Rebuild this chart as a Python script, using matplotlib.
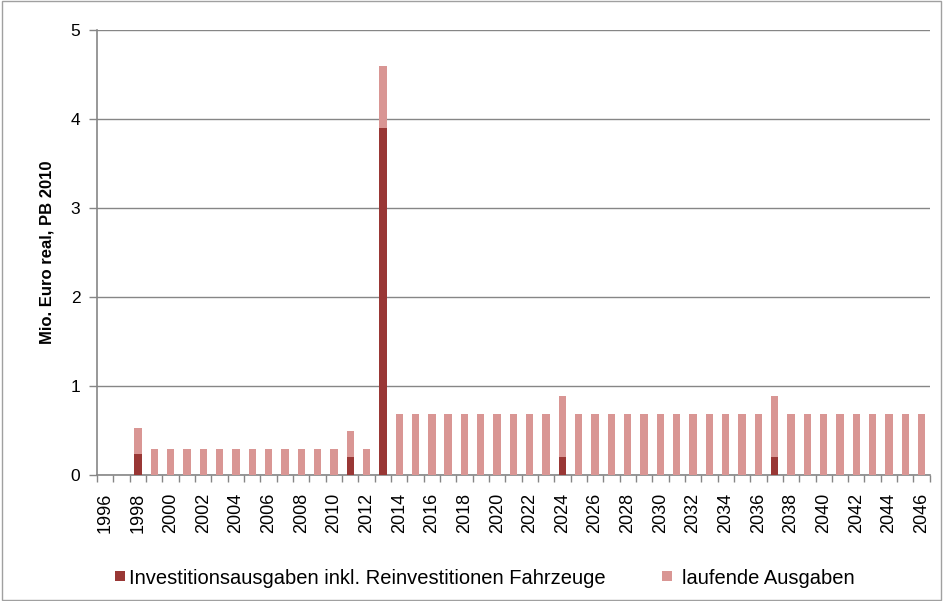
import numpy as np
import matplotlib.pyplot as plt
from matplotlib.patches import Rectangle

years = list(range(1996, 2047))

# Investitionsausgaben (Mio. Euro) per year
invest = [0.0, 0.0, 0.23, 0.0, 0.0, 0.0, 0.0, 0.0, 0.0, 0.0,
          0.0, 0.0, 0.0, 0.0, 0.0, 0.20, 0.0, 3.90, 0.0, 0.0,
          0.0, 0.0, 0.0, 0.0, 0.0, 0.0, 0.0, 0.0, 0.20, 0.0,
          0.0, 0.0, 0.0, 0.0, 0.0, 0.0, 0.0, 0.0, 0.0, 0.0,
          0.0, 0.20, 0.0, 0.0, 0.0, 0.0, 0.0, 0.0, 0.0, 0.0,
          0.0]

# laufende Ausgaben (Mio. Euro) per year
running = [0.0, 0.0, 0.30, 0.29, 0.29, 0.29, 0.29, 0.29, 0.29, 0.29,
           0.29, 0.29, 0.29, 0.29, 0.29, 0.29, 0.29, 0.70, 0.68, 0.68,
           0.68, 0.68, 0.68, 0.68, 0.68, 0.68, 0.68, 0.68, 0.69, 0.68,
           0.68, 0.68, 0.68, 0.68, 0.68, 0.68, 0.68, 0.68, 0.68, 0.68,
           0.68, 0.69, 0.68, 0.68, 0.68, 0.68, 0.68, 0.68, 0.68, 0.68,
           0.68]

dark = '#993735'
light = '#D99694'
axis_grey = '#868686'

plt.rcParams['font.family'] = ['Liberation Sans', 'DejaVu Sans']

fig = plt.figure(figsize=(9.43, 6.01), dpi=100)
ax = fig.add_axes([0.103, 0.21, 0.883, 0.74])

x = np.arange(len(years))
ax.bar(x, invest, width=0.45, color=dark, zorder=3)
ax.bar(x, running, width=0.45, bottom=invest, color=light, zorder=3)

ax.set_xlim(-0.5, len(years) - 0.5)
ax.set_ylim(0, 5)
ax.set_yticks(range(0, 6))
ax.yaxis.grid(True, color=axis_grey, linewidth=1.0, zorder=0)

# labels every second year, tick marks between categories
ax.set_xticks(x[::2])
ax.set_xticklabels([str(y) for y in years[::2]], rotation=90, fontsize=13)
ax.set_xticks(np.arange(-0.5, len(years)), minor=True)
ax.tick_params(axis='x', which='major', length=0, pad=13)
ax.tick_params(axis='x', which='minor', length=5, color=axis_grey, width=1)
ax.tick_params(axis='y', length=6, color=axis_grey, width=1, labelsize=12.5, pad=6)

for side in ['top', 'right']:
    ax.spines[side].set_visible(False)
for side in ['left', 'bottom']:
    ax.spines[side].set_color(axis_grey)
    ax.spines[side].set_linewidth(1.2)

ax.set_ylabel('Mio. Euro real, PB 2010', fontsize=12, fontweight='bold', labelpad=12)

# legend along the bottom edge
sq_w, sq_h = 10 / 943, 10 / 601
for x0, col in [(0.122, dark), (0.702, light)]:
    fig.patches.append(Rectangle((x0, 0.0333), sq_w, sq_h, transform=fig.transFigure,
                                 facecolor=col, edgecolor='none'))
fig.text(0.137, 0.038, 'Investitionsausgaben inkl. Reinvestitionen Fahrzeuge',
         fontsize=14.5, va='center')
fig.text(0.723, 0.038, 'laufende Ausgaben', fontsize=14.5, va='center')

# chart frame
fig.patches.append(Rectangle((0.002, 0.002), 0.996, 0.996, transform=fig.transFigure,
                             fill=False, edgecolor='#A0A0A0', linewidth=1))

fig.savefig('out.png', dpi=100)
